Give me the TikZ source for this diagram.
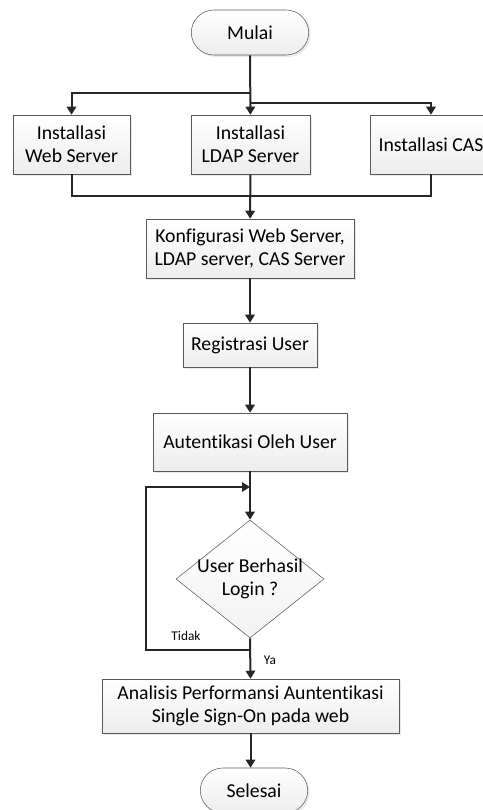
\documentclass[tikz,border=0pt]{standalone}
\usepackage{fontspec}
\setmainfont{Carlito}[Ligatures={NoCommon}]
\usepackage{tikz}
\usetikzlibrary{calc, positioning, arrows.meta, shapes.geometric, shapes.misc, shadows}
\tikzset{
    flow/.style={
        x=0.75pt, y=-0.75pt,
        font=\fontsize{14.8}{17}\selectfont,
        >={Triangle[length=6pt, width=7pt]},
        block/.style={draw=gray!70!black, rectangle, align=center, inner sep=1pt,
            top color=white, bottom color=gray!14,
            drop shadow={shadow xshift=1.5pt, shadow yshift=-1.5pt, fill=gray!22, opacity=0.8}},
        terminal/.style={block, rounded rectangle, rounded rectangle arc length=180},
        decision/.style={draw=gray!70!black, diamond, inner sep=0pt,
            top color=white, bottom color=gray!10},
        arrow/.style={line width=1.5pt, draw=gray!30!black, ->},
        line/.style={line width=1.5pt, draw=gray!30!black},
        tag/.style={font=\fontsize{10}{12}\selectfont, inner sep=1pt}
    }
}
\begin{document}
\begin{tikzpicture}[flow]
        \useasboundingbox (0,0) rectangle (482,810);

        % Start
        \node[terminal, minimum width=90pt, minimum height=33.75pt] (mulai) at (250,32.5) {Mulai};

        % Installation steps
        \node[block, minimum width=87.75pt, minimum height=44.25pt] (web) at (71.5,144.5) {Installasi\\Web Server};
        \node[block, minimum width=89.25pt, minimum height=44.25pt] (ldap) at (250.5,144.5) {Installasi\\LDAP Server};
        \node[block, minimum width=91.5pt, minimum height=44.25pt] (cas) at (431,144.5) {Installasi CAS};

        % Configuration and users
        \node[block, minimum width=156pt, minimum height=44.25pt] (konfig) at (250,248.5) {Konfigurasi Web Server,\\LDAP server, CAS Server};
        \node[block, minimum width=100.5pt, minimum height=33pt] (registrasi) at (250,345) {Registrasi User};
        \node[block, minimum width=145.5pt, minimum height=43.5pt] (autentikasi) at (250,442) {Autentikasi Oleh User};

        % Decision
        \node[decision, minimum width=111pt, minimum height=88.5pt] (cek) at (250,579) {};
        \node[align=center, inner sep=0pt] (cektext) at (cek.center) {User Berhasil\\Login ?};

        % Analysis and end
        \node[block, minimum width=222.75pt, minimum height=40.5pt] (analisis) at (250.5,706) {Analisis Performansi Auntentikasi\\Single Sign-On pada web};
        \node[terminal, minimum width=82.5pt, minimum height=33.75pt] (selesai) at (254,790.5) {Selesai};

        % Branches from start
        \coordinate (bagi1) at (250,93);
        \coordinate (bagi2) at (250,103);
        \draw[arrow] (mulai) -- (ldap);
        \draw[arrow] (bagi1) -| (web.north);
        \draw[arrow] (bagi2) -| (cas.north);

        % Merge into configuration
        \coordinate (gabung) at (250,196);
        \draw[line] (web.south) |- (gabung);
        \draw[line] (cas.south) |- (gabung);
        \draw[arrow] (ldap) -- (konfig);

        \draw[arrow] (konfig) -- (registrasi);
        \draw[arrow] (registrasi) -- (autentikasi);
        \draw[arrow] (autentikasi) -- (cek);

        % Loop back when login fails
        \coordinate (pisah) at (250,650);
        \coordinate (masuk) at (250,487);
        \draw[arrow] (pisah) -- (146,650) -- (146,487) -- (masuk);
        \node[tag] (tidak) at (186,636) {Tidak};

        % Success
        \draw[arrow] (cek.south) -- (analisis.north);
        \node[tag] (ya) at (270,660) {Ya};
        \draw[arrow] (analisis.south) -- (analisis.south |- selesai.north);

    \end{tikzpicture}
\end{document}
